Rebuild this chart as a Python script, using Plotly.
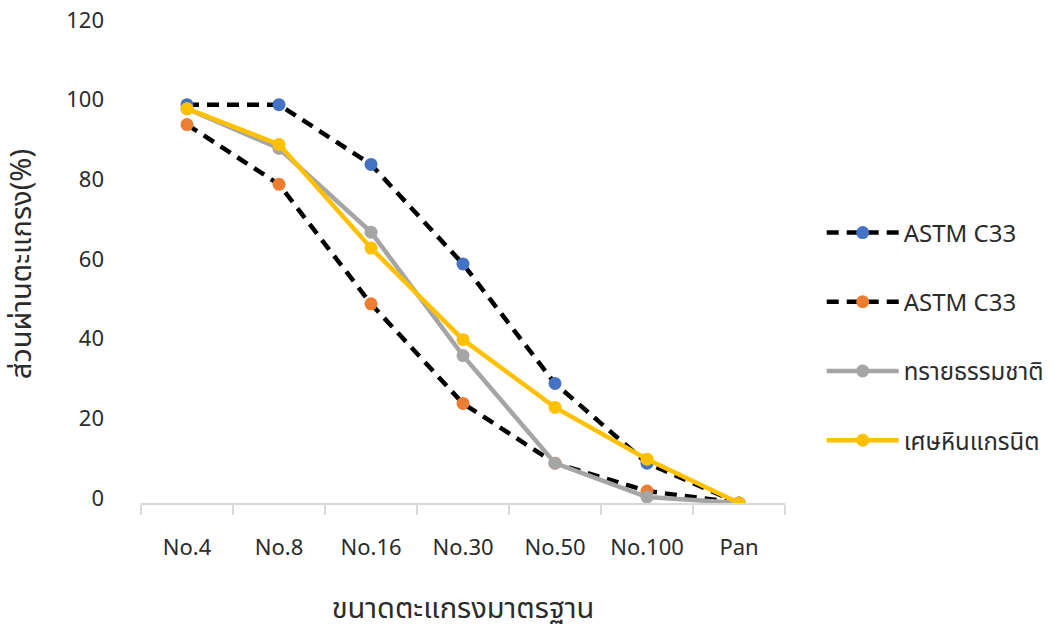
import plotly.graph_objects as go

# Sieve sizes and percent passing for each gradation curve
sieves = ["No.4", "No.8", "No.16", "No.30", "No.50", "No.100", "Pan"]
astm_upper = [100, 100, 85, 60, 30, 10, 0]
astm_lower = [95, 80, 50, 25, 10, 3, 0]
natural_sand = [99, 89, 68, 37, 10, 1.5, 0]
granite_dust = [99, 90, 64, 41, 24, 11, 0]

series_names = ["ASTM C33", "ASTM C33", "ทรายธรรมชาติ", "เศษหินแกรนิต"]
marker_colors = ["#4472C4", "#ED7D31", "#A5A5A5", "#FFC000"]
line_colors = ["#000000", "#000000", "#A5A5A5", "#FFC000"]
line_dashes = ["12px,8px", "12px,8px", "solid", "solid"]

FONT = "Noto Sans, Noto Sans Thai, DejaVu Sans, sans-serif"
TEXT = "#2b2b2b"

fig = go.Figure()
for i, (name, vals) in enumerate(zip(series_names,
                                     [astm_upper, astm_lower, natural_sand, granite_dust])):
    fig.add_trace(go.Scatter(
        x=sieves, y=vals, name=name, mode="lines+markers",
        legendgroup=f"g{i}",
        line=dict(color=line_colors[i], width=4.5, dash=line_dashes[i]),
        marker=dict(color=marker_colors[i], size=13),
    ))

fig.update_layout(
    width=1061, height=628,
    margin=dict(l=141, r=276, t=25, b=125, autoexpand=False),
    paper_bgcolor="white", plot_bgcolor="white",
    font=dict(family=FONT, size=21, color=TEXT),
    showlegend=True,
    legend=dict(
        x=1.057, xanchor="left", y=0.612, yanchor="top",
        tracegroupgap=35, itemwidth=72,
        font=dict(family=FONT, size=24, color=TEXT),
        bgcolor="rgba(0,0,0,0)",
    ),
    xaxis=dict(
        type="category", range=[-0.5, 6.5], automargin=False,
        showline=True, linecolor="#D9D9D9", linewidth=1.5,
        ticks="outside", tickson="boundaries", ticklen=10, tickcolor="#D9D9D9",
        tickwidth=1.5, showgrid=False, zeroline=False,
        ticklabelstandoff=24, tickfont=dict(size=22),
        title=dict(text="ขนาดตะแกรงมาตรฐาน", standoff=38,
                   font=dict(family=FONT, size=29)),
    ),
    yaxis=dict(
        range=[0, 120], dtick=20, showgrid=False, zeroline=False, automargin=False,
        showline=False, ticks="", ticklabelstandoff=36, ticklabelshift=-5,
        tickfont=dict(size=22),
        title=dict(text="ส่วนผ่านตะแกรง(%)", standoff=28,
                   font=dict(family=FONT, size=29)),
    ),
)

fig.write_html("out.html")
